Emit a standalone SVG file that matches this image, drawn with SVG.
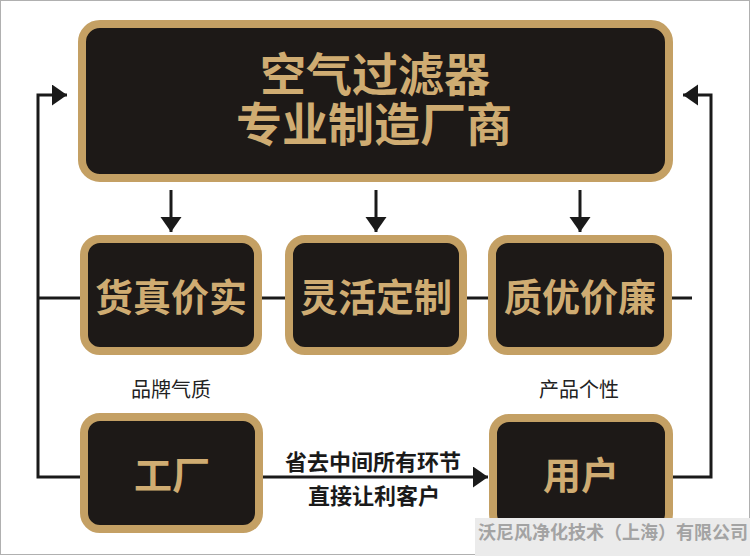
<svg xmlns="http://www.w3.org/2000/svg" width="750" height="556" viewBox="0 0 750 556">
<style>
.box{fill:#1d1917;stroke:#c4a064;stroke-width:8}
.gold{fill:#cfac72;font-family:"Noto Sans CJK SC","Noto Sans CJK JP",sans-serif;font-weight:700;text-anchor:middle}
.lbl{fill:#222;font-family:"Noto Sans CJK SC",sans-serif;font-weight:400;text-anchor:middle;font-size:20px}
.bt{fill:#1a1a1a;font-family:"Noto Sans CJK SC",sans-serif;font-weight:700;text-anchor:middle;font-size:22px}
.ln{fill:none;stroke:#1a1a1a;stroke-width:3}
</style>
<defs>
<marker id="arr" markerUnits="userSpaceOnUse" markerWidth="16" markerHeight="22" refX="15" refY="10.5" orient="auto">
<path d="M0,0 L15,10.5 L0,21 z" fill="#1a1a1a"/>
</marker>
</defs>
<rect x="0" y="0" width="750" height="556" fill="#ffffff"/>
<rect x="0.5" y="0.5" width="749" height="554" fill="none" stroke="#b0b0b0" stroke-width="1"/>
<g id="connectors">
<line class="ln" x1="38" y1="298" x2="692" y2="298"/>
<path class="ln" d="M80 477 H38 V95 H67" marker-end="url(#arr)"/>
<path class="ln" d="M673 477 H711 V95 H683" marker-end="url(#arr)"/>
<line class="ln" x1="171" y1="190" x2="171" y2="232" marker-end="url(#arr)"/>
<line class="ln" x1="376" y1="190" x2="376" y2="232" marker-end="url(#arr)"/>
<line class="ln" x1="580" y1="190" x2="580" y2="232" marker-end="url(#arr)"/>
<line class="ln" x1="263" y1="477" x2="488" y2="477" marker-end="url(#arr)"/>
<text class="bt" x="373" y="470">省去中间所有环节<tspan x="374" y="504">直接让利客户</tspan></text>
</g>
<g id="n-top">
<rect class="box" x="82" y="24" width="587" height="154" rx="18"/>
<text class="gold" x="375" y="91" font-size="46">空气过滤器<tspan x="374" y="141">专业制造厂商</tspan></text>
</g>
<g id="n-1">
<rect class="box" x="84" y="239" width="174" height="112" rx="16"/>
<text class="gold" x="171" y="311" font-size="38">货真价实</text>
</g>
<g id="n-2">
<rect class="box" x="289" y="239" width="174" height="112" rx="16"/>
<text class="gold" x="376" y="311" font-size="38">灵活定制</text>
</g>
<g id="n-3">
<rect class="box" x="492" y="239" width="176" height="112" rx="16"/>
<text class="gold" x="580" y="311" font-size="38">质优价廉</text>
</g>
<g id="l-1"><text class="lbl" x="171" y="397">品牌气质</text></g>
<g id="l-2"><text class="lbl" x="579" y="397">产品个性</text></g>
<g id="n-factory">
<rect class="box" x="84" y="417" width="175" height="112" rx="16"/>
<text class="gold" x="172" y="489" font-size="38" font-weight="400">工厂</text>
</g>
<g id="n-user">
<rect class="box" x="493" y="418" width="176" height="112" rx="16"/>
<text class="gold" x="581" y="489" font-size="38">用户</text>
</g>
<g id="watermark">
<rect x="475" y="518" width="275" height="38" fill="#ebebeb"/>
<text x="478" y="539" font-family="'Noto Sans CJK SC',sans-serif" font-weight="700" font-size="18" fill="#a3a3a3">沃尼风净化技术（上海）有限公司</text>
</g>
</svg>
